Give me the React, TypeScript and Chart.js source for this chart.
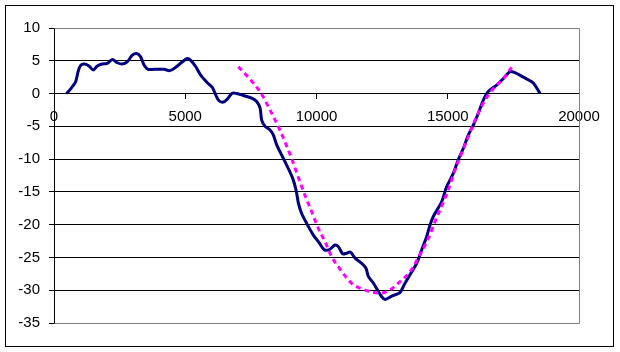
import React, { useEffect, useRef } from "react";
import { Chart, registerables } from "chart.js";

Chart.register(...registerables);

const measuredX = [480, 700, 825, 915, 1015, 1170, 1333, 1500, 1650, 1840, 2030, 2220, 2410, 2600, 2790, 2985, 3150, 3300, 3430, 3580, 3810, 4190, 4420, 4635, 4890, 5080, 5200, 5400, 5590, 5840, 6030, 6160, 6285, 6450, 6600, 6790, 6960, 7210, 7530, 7720, 7850, 7910, 8040, 8230, 8355, 8480, 8675, 8890, 9090, 9220, 9310, 9435, 9625, 9880, 10110, 10300, 10515, 10705, 10830, 11000, 11150, 11300, 11470, 11720, 11885, 11975, 12165, 12320, 12485, 12610, 12865, 13180, 13335, 13560, 13815, 14005, 14195, 14325, 14450, 14770, 14960, 15215, 15400, 15595, 15785, 15975, 16165, 16355, 16545, 16865, 17120, 17370, 17560, 17880, 18200, 18320, 18515];
const measuredY = [0, 1.05, 1.8, 3.3, 4.3, 4.5, 4.2, 3.6, 4.2, 4.5, 4.6, 5.2, 4.7, 4.5, 4.85, 5.85, 6.1, 5.6, 4.35, 3.7, 3.7, 3.7, 3.5, 4.0, 4.85, 5.35, 5.1, 4.1, 2.8, 1.65, 0.95, -0.2, -1.1, -1.3, -0.85, 0.05, 0.0, -0.3, -0.7, -1.2, -2.2, -4.0, -5.0, -5.55, -6.3, -7.8, -9.4, -11.15, -12.9, -14.7, -16.7, -18.3, -19.8, -21.6, -22.8, -23.85, -23.75, -23.1, -23.35, -24.45, -24.35, -24.2, -25.1, -25.9, -26.65, -27.9, -28.9, -29.95, -31.0, -31.4, -30.9, -30.35, -29.2, -27.65, -25.9, -23.85, -21.85, -20.05, -18.75, -16.5, -14.2, -12.15, -10.1, -8.35, -6.3, -4.8, -3.0, -1.0, 0.3, 1.3, 2.3, 3.35, 3.2, 2.5, 1.8, 1.3, 0.0];

const fitX = [7020, 7465, 7880, 8230, 8610, 9070, 9310, 9560, 9815, 10070, 10325, 10580, 10830, 11085, 11340, 11660, 12040, 12420, 12800, 13180, 13560, 13815, 14260, 14515, 15020, 15275, 15530, 15785, 16100, 16420, 16800, 17120, 17435];
const fitY = [4.1, 2.2, 0.1, -2.5, -5.6, -10.1, -12.8, -15.5, -18.0, -20.55, -22.6, -24.9, -26.4, -27.8, -28.95, -29.7, -30.2, -30.45, -29.95, -28.7, -27.2, -25.5, -22.1, -19.55, -14.7, -11.65, -9.1, -6.55, -3.5, -1.0, 1.05, 2.3, 4.0];

const xMin = 0;
const xMax = 20000;
const xStep = 5000;
const yMin = -35;
const yMax = 10;
const yStep = 5;

const FONT = { family: "'Liberation Sans', Arial, sans-serif", size: 15 };

export default function App() {
  const ref = useRef<HTMLCanvasElement | null>(null);

  useEffect(() => {
    if (!ref.current) return;
    const frame = {
      id: "frame",
      beforeDraw(chart: any) {
        const c = chart.ctx;
        c.save();
        c.fillStyle = "#ffffff";
        c.fillRect(0, 0, chart.width, chart.height);
        c.restore();
      },
      beforeDatasetsDraw(chart: any) {
        const c = chart.ctx;
        const a = chart.chartArea;
        c.save();
        c.strokeStyle = "#808080";
        c.lineWidth = 1;
        c.beginPath();
        const r = Math.round(a.right) + 0.5;
        const t = Math.round(a.top) + 0.5;
        const b = Math.round(a.bottom) + 0.5;
        c.moveTo(Math.round(a.left) + 0.5, t);
        c.lineTo(r, t);
        c.lineTo(r, b);
        c.lineTo(Math.round(a.left) + 0.5, b);
        c.stroke();
        c.restore();
      },
      afterDraw(chart: any) {
        const c = chart.ctx;
        c.save();
        c.strokeStyle = "#000000";
        c.lineWidth = 1;
        c.strokeRect(5.5, 5.5, 608, 341);
        c.restore();
      },
    };

    const chart = new Chart(ref.current, {
      type: "scatter",
      data: {
        datasets: [
          {
            data: measuredX.map((x, i) => ({ x, y: measuredY[i] })),
            showLine: true,
            borderColor: "#000080",
            borderWidth: 3,
            pointRadius: 0,
            tension: 0.3,
            order: 1,
          },
          {
            data: fitX.map((x, i) => ({ x, y: fitY[i] })),
            showLine: true,
            borderColor: "#ff00ff",
            borderWidth: 3,
            borderDash: [5, 4],
            pointRadius: 0,
            cubicInterpolationMode: "monotone",
            order: 0,
          },
        ],
      },
      options: {
        responsive: false,
        animation: false,
        layout: { padding: { left: 0, top: 28, right: 41, bottom: 29 } },
        plugins: { legend: { display: false }, tooltip: { enabled: false } },
        scales: {
          x: {
            type: "linear",
            position: { y: 0 } as any,
            min: xMin,
            max: xMax,
            ticks: {
              stepSize: xStep,
              color: "#000",
              font: FONT,
              padding: 9,
              maxRotation: 0,
              callback: (v: any) => String(v),
            },
            grid: { drawOnChartArea: false, drawTicks: true, tickLength: 5, tickColor: "#000" },
            border: { color: "#000", width: 1 },
          },
          y: {
            type: "linear",
            position: "left",
            min: yMin,
            max: yMax,
            ticks: { stepSize: yStep, color: "#000", font: FONT, padding: 9, callback: (v: any) => String(v) },
            grid: {
              color: (ctx: any) => (ctx.tick && (ctx.tick.value === yMax || ctx.tick.value === yMin) ? "#808080" : "#000000"),
              tickColor: "#000",
              tickLength: 5,
              lineWidth: 1,
            },
            border: { color: "#000", width: 1 },
            afterFit: (s: any) => {
              s.width = 54;
            },
          },
        },
      },
      plugins: [frame],
    } as any);
    return () => chart.destroy();
  }, []);

  return (
    <div style={{ position: "fixed", left: 0, top: 0, width: 620, height: 352, background: "#fff" }}>
      <canvas ref={ref} width={620} height={352} style={{ display: "block" }} />
    </div>
  );
}
